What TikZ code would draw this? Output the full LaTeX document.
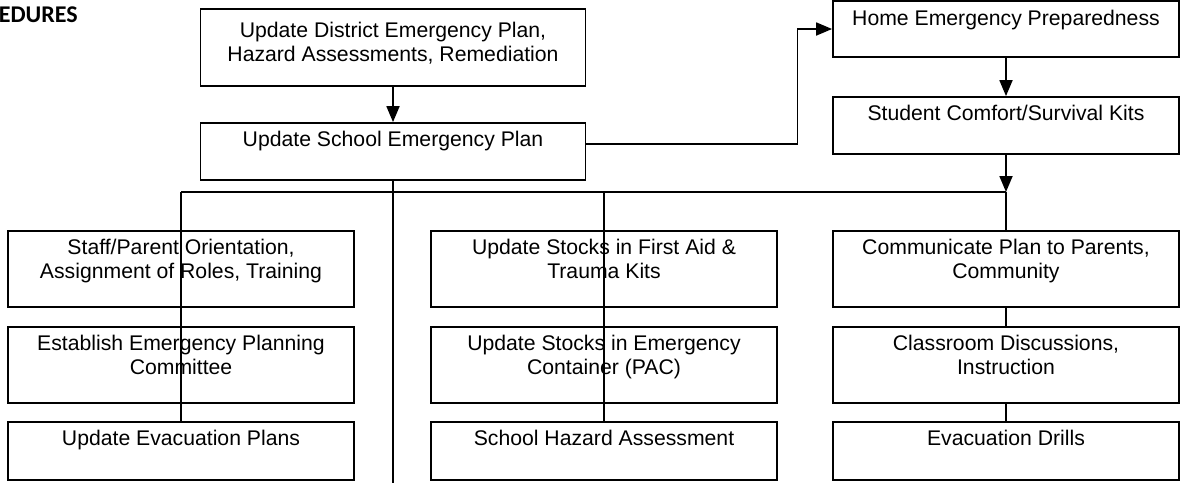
\documentclass[tikz,border=0pt]{standalone}
\usepackage{fontspec}
\setmainfont{Liberation Sans}
\newfontfamily\headfont{Carlito}
\usetikzlibrary{arrows.meta,calc}
\newlength{\pxu}\setlength{\pxu}{0.5pt}
\begin{document}
\begin{tikzpicture}[x=0.5pt,y=-0.5pt,
  box/.style={draw, line width=0.9pt, fill=white, minimum width=346\pxu, inner sep=0pt},
  txt/.style={anchor=north, inner sep=0pt, align=center, font=\fontsize{10.6}{12.2}\selectfont},
  conn/.style={line width=0.9pt},
  arr/.style={conn, -{Triangle[length=8pt,width=6.5pt]}},
  head/.style={anchor=base west, inner sep=0pt, font=\headfont\bfseries\fontsize{12}{14}\selectfont}
]
\useasboundingbox (0,0) rectangle (1180,483);

% heading (cropped)
\node[head] (heading) at (-1.5,22) {EDURES};

% boxes
\node[box, minimum width=385\pxu, minimum height=77\pxu] (district) at (393,47.5) {};
\node[box, minimum width=385\pxu, minimum height=57\pxu] (school) at (393,151.5) {};
\node[box, minimum height=56\pxu] (home) at (1006,29) {};
\node[box, minimum height=57\pxu] (kits) at (1006,125.5) {};

\node[box, minimum height=76\pxu] (a1) at (181,269) {};
\node[box, minimum height=76\pxu] (a2) at (181,365) {};
\node[box, minimum height=58\pxu] (a3) at (181,451) {};
\node[box, minimum height=76\pxu] (b1) at (604,269) {};
\node[box, minimum height=76\pxu] (b2) at (604,365) {};
\node[box, minimum height=58\pxu] (b3) at (604,451) {};
\node[box, minimum height=76\pxu] (c1) at (1006,269) {};
\node[box, minimum height=76\pxu] (c2) at (1006,365) {};
\node[box, minimum height=58\pxu] (c3) at (1006,451) {};

% texts
\node[txt] (districtT) at ([yshift=-5.9pt]district.north) {\strut Update District Emergency Plan,\\Hazard Assessments, Remediation};
\node[txt] (schoolT) at ([yshift=-3.46pt]school.north) {\strut Update School Emergency Plan};
\node[txt] (homeT) at ([yshift=-3.9pt]home.north) {\strut Home Emergency Preparedness};
\node[txt] (kitsT) at ([yshift=-3.46pt]kits.north) {\strut Student Comfort/Survival Kits};

\node[txt] (a1T) at ([yshift=-3.46pt]a1.north) {\strut Staff/Parent Orientation,\\Assignment of Roles, Training};
\node[txt] (a2T) at ([yshift=-3.46pt]a2.north) {\strut Establish Emergency Planning\\Committee};
\node[txt] (a3T) at ([yshift=-3.46pt]a3.north) {\strut Update Evacuation Plans};
\node[txt] (b1T) at ([yshift=-3.46pt]b1.north) {\strut Update Stocks in First Aid \&\\Trauma Kits};
\node[txt] (b2T) at ([yshift=-3.46pt]b2.north) {\strut Update Stocks in Emergency\\Container (PAC)};
\node[txt] (b3T) at ([yshift=-3.46pt]b3.north) {\strut School Hazard Assessment};
\node[txt] (c1T) at ([yshift=-3.46pt]c1.north) {\strut Communicate Plan to Parents,\\Community};
\node[txt] (c2T) at ([yshift=-3.46pt]c2.north) {\strut Classroom Discussions,\\Instruction};
\node[txt] (c3T) at ([yshift=-3.46pt]c3.north) {\strut Evacuation Drills};

% helper coordinates
\coordinate (busY) at (0,192);
\coordinate (bottomY) at (0,483);
\coordinate (busR) at (kits.south |- busY);
\coordinate (busL) at (a1.north |- busY);
\coordinate (busM) at (b1.north |- busY);
\coordinate (schoolEnd) at (school.south |- bottomY);

% connectors
\draw[arr] (district.south) -- (school.north);
\draw[arr] ([yshift=3.75pt]school.east) -- ++(211,0) |- (home.west);
\draw[arr] (home.south) -- (kits.north);
\draw[arr] (kits.south) -- (busR);
\draw[conn] (busL) -- (busR);
\draw[conn] (busR) -- (c1.north);
\draw[conn] (c1.south) -- (c2.north);
\draw[conn] (c2.south) -- (c3.north);
\draw[conn] (busL) -- (a3.north);
\draw[conn] (busM) -- (b3.north);
\draw[conn] (school.south) -- (schoolEnd);
\end{tikzpicture}
\end{document}
